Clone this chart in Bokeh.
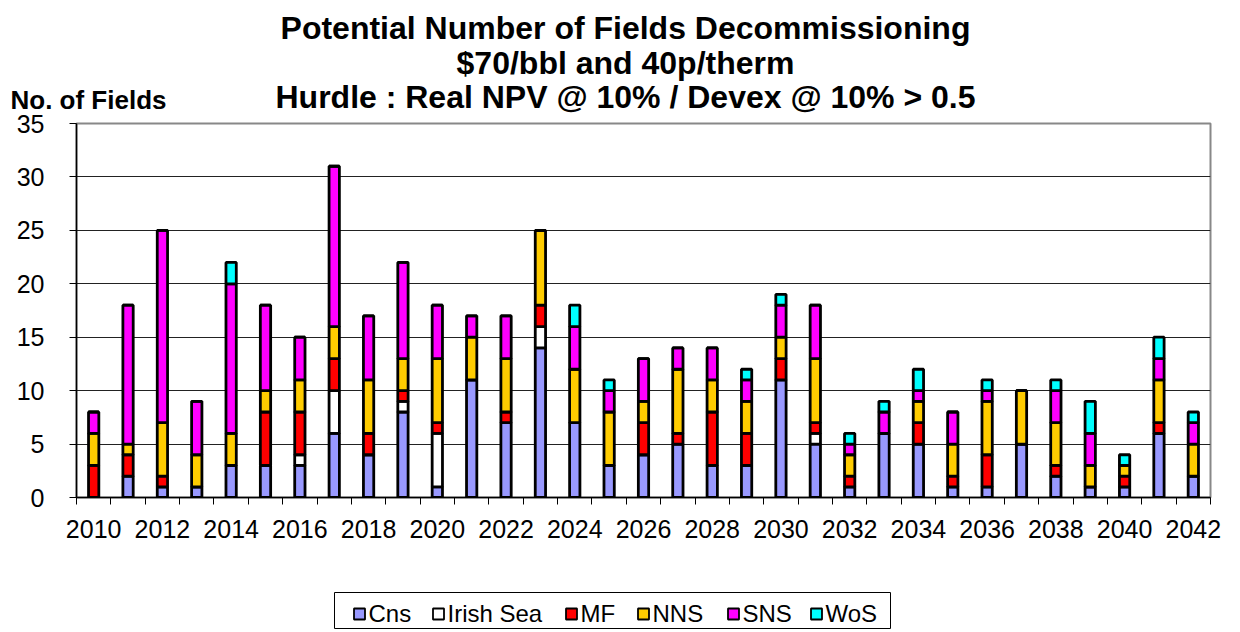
from bokeh.plotting import figure
from bokeh.layouts import column
from bokeh.models import ColumnDataSource, FixedTicker
from bokeh.core.properties import value
from bokeh.embed import file_html
from bokeh.resources import INLINE

years = list(range(2010, 2043))
cns =      [0, 2, 1, 1, 3, 3, 3, 6, 4, 8, 1, 11, 7, 14, 7, 3, 4, 5, 3, 3, 11, 5, 1, 6, 5, 1, 1, 5, 2, 1, 1, 6, 2]
irish =    [0, 0, 0, 0, 0, 0, 1, 4, 0, 1, 5, 0, 0, 2, 0, 0, 0, 0, 0, 0, 0, 1, 0, 0, 0, 0, 0, 0, 0, 0, 0, 0, 0]
mf =       [3, 2, 1, 0, 0, 5, 4, 3, 2, 1, 1, 0, 1, 2, 0, 0, 3, 1, 5, 3, 2, 1, 1, 0, 2, 1, 3, 0, 1, 0, 1, 1, 0]
nns =      [3, 1, 5, 3, 3, 2, 3, 3, 5, 3, 6, 4, 5, 7, 5, 5, 2, 6, 3, 3, 2, 6, 2, 0, 2, 3, 5, 5, 4, 2, 1, 4, 3]
sns =      [2, 13, 18, 5, 14, 8, 4, 15, 6, 9, 5, 2, 4, 0, 4, 2, 4, 2, 3, 2, 3, 5, 1, 2, 1, 3, 1, 0, 3, 3, 0, 2, 2]
wos =      [0, 0, 0, 0, 2, 0, 0, 0, 0, 0, 0, 0, 0, 0, 2, 1, 0, 0, 0, 1, 1, 0, 1, 1, 2, 0, 1, 0, 1, 3, 1, 2, 1]

series = ["Cns", "Irish Sea", "MF", "NNS", "SNS", "WoS"]
colors = ["#9999FF", "#FFFFFF", "#FF0000", "#FFCC00", "#FF00FF", "#00FFFF"]
x_labels = [str(y) for y in range(2010, 2043, 2)]
y_ticks = [0, 5, 10, 15, 20, 25, 30, 35]
titles = ["Potential Number of Fields Decommissioning",
          "$70/bbl and 40p/therm",
          "Hurdle : Real NPV @ 10% / Devex @ 10% > 0.5"]
y_title = "No. of Fields"

FONT = "Liberation Sans"
W = 1240

def bare(h):
    f = figure(width=W, height=h, output_backend="svg", toolbar_location=None,
               x_axis_location=None, y_axis_location=None,
               x_range=(0, W), y_range=(0, h), frame_align=False,
               min_border=0, min_border_left=0, min_border_right=0,
               min_border_top=0, min_border_bottom=0)
    f.grid.visible = False
    f.outline_line_color = None
    f.background_fill_color = "white"
    f.border_fill_color = "white"
    return f

# ---- title strip (window y 0..114) ----
TH = 114
pt = bare(TH)
pt.text(x=[625, 625, 625], y=[TH - 27, TH - 62, TH - 96], text=titles,
        text_font=value(FONT), text_font_size="32px", text_font_style="bold",
        text_align="center", text_baseline="middle", text_color="black")
pt.text(x=[10], y=[TH - 99], text=[y_title],
        text_font=value(FONT), text_font_size="26px", text_font_style="bold",
        text_align="left", text_baseline="middle", text_color="black")

# ---- main chart (window y 114..547) ----
source = ColumnDataSource(data=dict(year=years, Cns=cns, **{"Irish Sea": irish}, MF=mf, NNS=nns, SNS=sns, WoS=wos))

p = figure(width=W, height=433, output_backend="svg", toolbar_location=None,
           x_range=(2009.5, 2042.5), y_range=(0, 35), frame_align=False,
           min_border_left=76, min_border_right=30, min_border_top=9, min_border_bottom=50)

p.vbar_stack(series, x="year", width=0.3, source=source,
             fill_color=colors, line_color="black", line_width=2.8)

p.xgrid.grid_line_color = None
p.ygrid.grid_line_color = "#222222"
p.ygrid.grid_line_width = 1
p.ygrid.ticker = FixedTicker(ticks=y_ticks[1:-1])
p.outline_line_color = "#888888"
p.outline_line_width = 2
p.background_fill_color = "white"
p.border_fill_color = "white"

xa = p.xaxis[0]
xa.ticker = FixedTicker(ticks=[int(s) for s in x_labels],
                        minor_ticks=[y - 0.5 for y in years] + [2042.5])
xa.major_label_overrides = {int(s): s for s in x_labels}
xa.major_tick_line_color = None
xa.major_tick_out = 7
xa.major_tick_in = 0
xa.minor_tick_out = 7
xa.minor_tick_in = 0
xa.minor_tick_line_color = "black"
xa.axis_line_color = "black"
xa.axis_line_width = 1.5
xa.major_label_text_font = FONT
xa.major_label_text_font_size = "25px"
xa.major_label_text_color = "black"
xa.major_label_standoff = 15

ya = p.yaxis[0]
ya.ticker = FixedTicker(ticks=y_ticks)
ya.major_tick_out = 7
ya.major_tick_in = 0
ya.minor_tick_line_color = None
ya.major_tick_line_color = "black"
ya.axis_line_color = "black"
ya.axis_line_width = 1.5
ya.major_label_text_font = FONT
ya.major_label_text_font_size = "25px"
ya.major_label_text_color = "black"
ya.major_label_standoff = 25

# ---- legend strip (window y 547..632) ----
LH = 85
pl = bare(LH)
def wy(y):  # window y -> strip data y
    return 632 - y
pl.quad(left=[334], right=[890], bottom=[wy(628)], top=[wy(592)],
        fill_color=None, line_color="black", line_width=1)
swatch_left = [353, 432, 565, 637, 727, 810]
pl.rect(x=[s + 6 for s in swatch_left], y=[wy(613.5)] * len(series), width=11, height=11,
        fill_color=colors, line_color="black", line_width=1.8)
pl.text(x=[s + 15 for s in swatch_left], y=[wy(613)] * len(series), text=series,
        text_font=value(FONT), text_font_size="24px", text_align="left",
        text_baseline="middle", text_color="black")

layout = column(pt, p, pl, spacing=0)
open("out.html", "w").write(file_html(layout, INLINE))
